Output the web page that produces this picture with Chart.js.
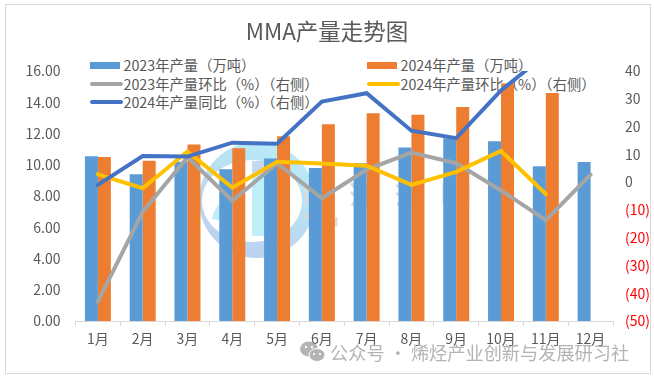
<!DOCTYPE html>
<html lang="zh">
<head>
<meta charset="utf-8">
<title>MMA产量走势图</title>
<script src="https://cdn.jsdelivr.net/npm/chart.js@4"></script>
<style>
  html, body { margin: 0; padding: 0; background: #fff; }
  #wrap { position: relative; width: 654px; height: 378px; overflow: hidden;
          font-family: "Noto Sans CJK SC", "Noto Sans", sans-serif; }
  #frame { position: absolute; left: 5px; top: 4px; width: 644px; height: 368px; border: 1px solid #d9d9d9; }
  #logo { position: absolute; left: 0; top: 0; }
  #chart { position: absolute; left: 0; top: 0; }
  .key { position: absolute; font-size: 14.3px; line-height: 18px; color: #595959; white-space: nowrap; }
  .swatch { position: absolute; }
  #mark { position: absolute; left: 330px; top: 341px; font-size: 18.2px; line-height: 22px; color: #b4b4b4; white-space: nowrap; }
</style>
</head>
<body>
<div id="wrap">
  <div id="frame"></div>
  <svg id="logo" width="654" height="378">
    <defs>
      <linearGradient id="ring" x1="0.8" y1="0" x2="0.3" y2="1">
        <stop offset="0" stop-color="#b9ecf8"/>
        <stop offset="1" stop-color="#bcd0ee"/>
      </linearGradient>
      <mask id="cut">
        <rect width="654" height="378" fill="#fff"/>
        <ellipse cx="252" cy="201" rx="50" ry="41" fill="#000"/>
      </mask>
    </defs>
    <circle cx="257" cy="200" r="58" fill="url(#ring)" mask="url(#cut)"/>
    <path d="M252 161 L276 161 L276 236 L252 236 Z" fill="#bdeef9"/>
    <path d="M252 161 L276 161 L276 172 L252 172 Z" fill="#c4d8f1"/>
    <path d="M212 219 Q214 206 226 198 L226 222 Z" fill="#bdeef9"/>
    <g fill="none" stroke="#dcdcdc" stroke-width="3">
      <path d="M306 183 V206 M312 182 H322 M312 192 H322 M312 205 H322"/>
      <path d="M351 183 L355 188 M351 192 L355 196 M352 206 L357 198 M360 184 H372 M366 184 V206 H374"/>
      <path d="M396 186 H412 M396 194 H412 M397 204 H412 M400 218 L408 226"/>
      <path d="M444 182 V206 M448 183 H468 M468 183 V206"/>
      <path d="M304 216 H318 M311 216 V226 M336 217 V226"/>
    </g>
    <g fill="#b4b4b4">
      <ellipse cx="309" cy="349" rx="9" ry="7.5"/>
      <ellipse cx="317" cy="355" rx="8" ry="6.5" stroke="#fff" stroke-width="1"/>
    </g>
    <g fill="#fff">
      <circle cx="306" cy="347" r="1.2"/><circle cx="312" cy="347" r="1.2"/>
      <circle cx="314" cy="354" r="1.1"/><circle cx="320" cy="354" r="1.1"/>
    </g>
  </svg>
  <div id="legend"></div>
  <canvas id="chart" width="654" height="378"></canvas>
  <div id="mark">公众号 · 烯烃产业创新与发展研习社</div>
</div>
<script>
const months = ["1月", "2月", "3月", "4月", "5月", "6月", "7月", "8月", "9月", "10月", "11月", "12月"];
const output2023 = [10.55, 9.4, 10.2, 9.72, 10.4, 9.8, 10.1, 11.1, 11.7, 11.5, 9.9, 10.17];
const output2024 = [10.5, 10.25, 11.3, 11.06, 11.83, 12.6, 13.3, 13.2, 13.7, 15.2, 14.6, null];
const mom2023 = [-43, -10.7, 9, -6.7, 6.8, -5.8, 4.5, 10.6, 6.8, -3, -13.7, 2.7];
const mom2024 = [2.8, -2.2, 11, -2, 7.3, 6.7, 5.9, -1, 3.7, 11.2, -4.3, null];
const yoy2024 = [-1, 9.4, 9.2, 14.2, 13.8, 29, 32, 18.5, 15.8, 33, 46, null];

const COLORS = {
  bar23: "#5B9BD5",
  bar24: "#ED7D31",
  mom23: "#A5A5A5",
  mom24: "#FFC000",
  yoy24: "#4472C4",
};
const FONT = '"Noto Sans CJK SC", "Noto Sans", sans-serif';
const TEXT = "#595959";

const names = {
  bar23: "2023年产量（万吨）",
  bar24: "2024年产量（万吨）",
  mom23: "2023年产量环比（%）（右侧）",
  mom24: "2024年产量环比（%）（右侧）",
  yoy24: "2024年产量同比（%）（右侧）",
};

function lineSet(key, values, order) {
  return {
    type: "line",
    label: names[key],
    data: values,
    yAxisID: "y1",
    borderColor: COLORS[key],
    backgroundColor: COLORS[key],
    borderWidth: 4,
    borderCapStyle: "round",
    borderJoinStyle: "miter",
    pointRadius: 0,
    tension: 0,
    order: order,
  };
}

function barSet(key, values) {
  return {
    type: "bar",
    label: names[key],
    data: values,
    yAxisID: "y",
    backgroundColor: COLORS[key],
    barPercentage: 1,
    categoryPercentage: 0.58,
    order: 10,
  };
}

function mmaChart() {
  const data = {
    labels: months,
    datasets: [
      barSet("bar23", output2023),
      barSet("bar24", output2024),
      lineSet("mom23", mom2023, 3),
      lineSet("mom24", mom2024, 2),
      lineSet("yoy24", yoy2024, 1),
    ],
  };

  const config = {
    type: "bar",
    data,
    options: {
      responsive: false,
      animation: false,
      plugins: {
        legend: { display: false },
        tooltip: { enabled: false },
        title: {
          display: true,
          text: "MMA产量走势图",
          color: TEXT,
          font: { family: FONT, size: 22.5, weight: "normal" },
          padding: { top: 17.5, bottom: 26.5 },
        },
      },
      scales: {
        x: {
          grid: { drawOnChartArea: false, drawTicks: true, tickLength: 5, color: "#d9d9d9" },
          border: { color: "#d9d9d9" },
          ticks: { color: TEXT, font: { family: FONT, size: 14 }, padding: 4, maxRotation: 0, autoSkip: false },
          afterFit: (s) => { s.height = 57; },
        },
        y: {
          position: "left",
          min: 0,
          max: 16,
          grid: { display: false },
          border: { display: false },
          ticks: {
            stepSize: 2,
            color: TEXT,
            padding: 7,
            font: { family: FONT, size: 14 },
            callback: (v) => v.toFixed(2),
          },
          afterFit: (s) => { s.width = 75.5; },
        },
        y1: {
          position: "right",
          min: -50,
          max: 40,
          grid: { display: false },
          border: { display: false },
          ticks: {
            stepSize: 10,
            padding: 4,
            font: { family: FONT, size: 14 },
            color: (c) => (c.tick.value < 0 ? "#FF0000" : TEXT),
            callback: (v) => (v < 0 ? "(" + Math.abs(v) + ")" : String(v)),
          },
          afterFit: (s) => { s.width = 41; },
        },
      },
    },
  };

  return new Chart(document.getElementById("chart"), config);
}

// legend sits in the page so it can overlap the plot like the original
function buildLegend() {
  const rows = [
    ["bar23", 90, 65, true], ["bar24", 367, 65, true],
    ["mom23", 90, 84, false], ["mom24", 367, 84, false],
    ["yoy24", 90, 102, false],
  ];
  const box = document.getElementById("legend");
  rows.forEach(([key, x, y, isBar]) => {
    const sw = document.createElement("div");
    sw.className = "swatch";
    sw.style.left = x + "px";
    sw.style.width = (isBar ? 30 : 33) + "px";
    sw.style.height = (isBar ? 7 : 4) + "px";
    sw.style.top = (y - (isBar ? 3.5 : 2)) + "px";
    sw.style.background = COLORS[key];
    if (!isBar) sw.style.borderRadius = "2px";
    box.appendChild(sw);
    const t = document.createElement("div");
    t.className = "key";
    t.style.left = (x + 33.5) + "px";
    t.style.top = (y - 9) + "px";
    t.textContent = names[key];
    box.appendChild(t);
  });
}

buildLegend();
mmaChart();
</script>
</body>
</html>
